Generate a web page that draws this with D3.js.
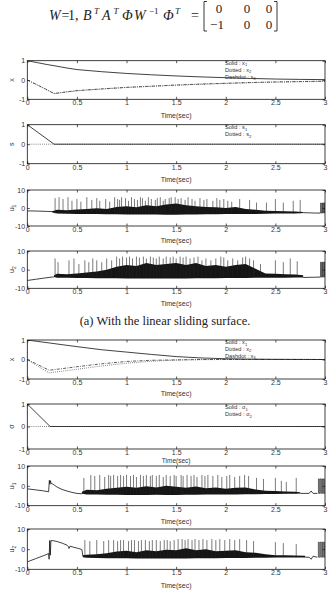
<!DOCTYPE html>
<html>
<head>
<meta charset="utf-8">
<script src="https://cdn.jsdelivr.net/npm/d3@7"></script>
<style>
body { margin: 0; background: #fff; }
svg { display: block; }
</style>
</head>
<body>
<svg id="fig" width="329" height="598"></svg>
<script>
// ---- data ----
var timeTicks = [0, 0.5, 1, 1.5, 2, 2.5, 3];
var stateTicks = [-1, 0, 1];
var inputTicks = [-10, 0, 10];
var matrixRows = [["0", "0", "0"], ["\u22121", "0", "0"]];

// (a) linear sliding surface
var tA = [0, 0.1, 0.2, 0.27, 0.4, 0.5, 0.75, 1, 1.25, 1.5, 1.75, 2, 2.25, 2.5, 2.75, 3];
var x1A = [1, 0.9, 0.8, 0.74, 0.62, 0.54, 0.43, 0.34, 0.27, 0.21, 0.16, 0.12, 0.08, 0.05, 0.03, 0.02];
var x2A = [0, -0.26, -0.52, -0.71, -0.62, -0.56, -0.47, -0.39, -0.33, -0.27, -0.22, -0.18, -0.14, -0.11, -0.09, -0.07];
var x3A = [0, -0.25, -0.51, -0.7, -0.61, -0.55, -0.46, -0.38, -0.32, -0.26, -0.21, -0.17, -0.13, -0.1, -0.08, -0.06];
var tSA = [0, 0.27, 3];
var s1A = [1, 0, 0];
var s2A = [0, 0, 0];

var u1aSmooth = [[[0, -1.6], [0.1, -1.7], [0.2, -1.9], [0.25, -2.0], [0.27, -2.3]],
                 [[2.78, -2.6], [2.85, -2.7], [2.9, -2.8], [2.95, -2.8]]];
var u1aBandT = [0.25, 0.3, 0.4, 0.5, 0.6, 0.7, 0.8, 0.9, 1.0, 1.1, 1.2, 1.3, 1.4, 1.5, 1.6, 1.7, 1.8, 1.9, 2.0, 2.1, 2.2, 2.3, 2.4, 2.5, 2.6, 2.7, 2.78];
var u1aBandLo = [-2.4, -3.0, -3.2, -3.3, -3.4, -3.4, -3.5, -3.5, -3.6, -3.6, -3.6, -3.6, -3.7, -3.7, -3.6, -3.6, -3.5, -3.5, -3.4, -3.4, -3.3, -3.3, -3.2, -3.1, -3.1, -3.0, -2.8];
var u1aBandHi = [-1.8, -1.0, -1.2, -0.8, -0.5, -0.2, -0.6, 0.5, 1.0, 0.4, 1.5, 1.0, 2.0, 2.5, 1.5, 1.0, 0.5, 0.4, 0.0, 0.5, -0.5, -1.0, -1.5, -1.6, -1.8, -2.0, -2.2];
var u1aSpikeBase = -3;
var u1aSpikes = [[0.28, 5.5], [0.32, 6], [0.36, 5], [0.41, 6], [0.45, 4], [0.5, 5], [0.54, 3.5], [0.6, 6], [0.65, 4.5], [0.7, 5.5],
  [0.73, 4], [0.79, 5], [0.83, 3.5], [0.88, 6], [0.91, 5], [0.93, 4.5], [0.95, 6], [0.99, 5.5], [1.02, 4], [1.05, 6],
  [1.08, 5], [1.11, 4.5], [1.14, 6], [1.16, 5.5], [1.19, 4], [1.22, 6], [1.25, 5], [1.29, 4.5], [1.31, 5.5], [1.34, 6],
  [1.37, 4], [1.39, 5], [1.43, 5.5], [1.45, 6], [1.49, 6], [1.52, 5], [1.55, 5.5], [1.59, 4.5], [1.62, 6], [1.66, 5],
  [1.69, 4], [1.74, 5.5], [1.78, 4.5], [1.81, 5], [1.87, 4], [1.91, 5.5], [1.94, 4.5], [1.98, 5], [2.02, 4], [2.06, 3.5],
  [2.14, 5], [2.24, 4.5], [2.31, 3], [2.41, 3], [2.5, 5], [2.58, 3], [2.68, 4], [2.75, 4.5]];
var u1aTail = [2.948, 2.956, 2.961, 2.969, 2.975, 2.982, 2.988, 2.994, 3.0];
var u1aTailLo = -2.8, u1aTailHi = 2.8;

var u2aSmooth = [[[0, -5.8], [0.08, -5.2], [0.16, -4.6], [0.24, -4.0], [0.27, -3.9]],
                 [[2.78, -4.2], [2.85, -4.1], [2.95, -4.0]]];
var u2aBandT = [0.27, 0.3, 0.4, 0.5, 0.6, 0.7, 0.8, 0.9, 1.0, 1.1, 1.2, 1.3, 1.4, 1.5, 1.6, 1.7, 1.8, 1.9, 2.0, 2.1, 2.2, 2.3, 2.4, 2.5, 2.6, 2.7, 2.78];
var u2aBandLo = [-4.0, -4.3, -4.4, -4.5, -4.5, -4.6, -4.6, -4.6, -4.7, -4.7, -4.7, -4.7, -4.7, -4.7, -4.7, -4.6, -4.6, -4.6, -4.5, -4.5, -4.5, -4.4, -4.4, -4.3, -4.3, -4.2, -4.2];
var u2aBandHi = [-3.0, -2.2, -2.5, -2.0, -1.5, -1.0, 0.0, 1.5, 2.5, 2.0, 3.5, 2.5, 3.0, 3.5, 2.5, 3.5, 2.0, 2.5, 1.5, 2.5, 3.0, 0.5, -2.0, -2.2, -2.5, -2.6, -3.0];
var u2aSpikeBase = -4;
var u2aSpikes = [[0.28, 6], [0.31, 4], [0.42, 5], [0.47, 6], [0.52, 3], [0.58, 5], [0.62, 4], [0.66, 6], [0.7, 5], [0.75, 4],
  [0.8, 6], [0.85, 5], [0.9, 7], [0.93, 6], [0.96, 7], [1.0, 6.5], [1.03, 7], [1.06, 6], [1.1, 7], [1.13, 6.5],
  [1.17, 7], [1.2, 6], [1.24, 7], [1.27, 6.5], [1.3, 6], [1.33, 7], [1.37, 6], [1.4, 7], [1.44, 6.5], [1.47, 7],
  [1.5, 6], [1.54, 7], [1.57, 6.5], [1.6, 7], [1.64, 6], [1.68, 6.5], [1.72, 7], [1.76, 5], [1.8, 6], [1.85, 5],
  [1.9, 6], [1.95, 7], [1.98, 6.5], [2.02, 5], [2.07, 6], [2.12, 5], [2.17, 6.5], [2.2, 7], [2.24, 6], [2.28, 5],
  [2.35, 3], [2.5, 5], [2.58, 4], [2.65, 6], [2.72, 4.5]];
var u2aTail = [2.948, 2.955, 2.962, 2.968, 2.975, 2.981, 2.988, 2.994, 3.0];
var u2aTailLo = -4, u2aTailHi = 4;

// (b) nonlinear sliding surface
var tB = [0, 0.1, 0.22, 0.35, 0.5, 0.75, 1, 1.25, 1.5, 1.75, 2, 2.25, 2.5, 3];
var x1B = [1, 0.93, 0.85, 0.76, 0.66, 0.5, 0.38, 0.26, 0.15, 0.08, 0.04, 0.02, 0.01, 0];
var x2B = [0, -0.33, -0.68, -0.6, -0.5, -0.33, -0.19, -0.09, -0.03, -0.01, 0, 0, 0, 0];
var x3B = [0, -0.25, -0.55, -0.47, -0.37, -0.22, -0.1, -0.04, -0.02, 0, 0, 0, 0, 0];
var tSB = [0, 0.23, 3];
var sig1B = [1, 0, 0];
var sig2B = [0, 0, 0];

var u1bSmooth = [[[0, -1.5], [0.08, -2.0], [0.16, -2.5], [0.215, -3.0], [0.222, 2.8], [0.228, 0.8], [0.234, 2.6], [0.24, 1.2],
                  [0.26, 0.8], [0.3, -0.6], [0.35, -1.8], [0.4, -2.6], [0.45, -3.3], [0.5, -3.8], [0.55, -4.0]],
                 [[2.75, -3.8], [2.84, -3.8], [2.86, -2.6], [2.88, -3.8], [2.92, -3.8]]];
var u1bBandT = [0.55, 0.6, 0.7, 0.8, 0.9, 1.0, 1.1, 1.2, 1.3, 1.4, 1.5, 1.6, 1.7, 1.8, 1.9, 2.0, 2.1, 2.2, 2.3, 2.4, 2.5, 2.6, 2.7, 2.75];
var u1bBandLo = [-4.0, -4.3, -4.4, -4.5, -4.5, -4.6, -4.6, -4.6, -4.5, -4.6, -4.6, -4.5, -4.5, -4.4, -4.4, -4.3, -4.3, -4.2, -4.2, -4.1, -4.1, -4.0, -4.0, -3.9];
var u1bBandHi = [-3.0, -2.0, -2.2, -1.5, -1.0, -0.5, -1.0, -0.2, -0.8, 0.0, -0.5, -1.0, -0.3, -1.2, -0.8, -1.5, -1.0, -0.8, -1.8, -2.5, -2.6, -2.8, -3.0, -3.2];
var u1bSpikeBase = -4;
var u1bSpikes = [[0.57, 4], [0.64, 5.5], [0.68, 5], [0.73, 5.5], [0.78, 4.5], [0.82, 5.5], [0.84, 5], [0.87, 5.5], [0.91, 5], [0.94, 5.5],
  [0.97, 5], [1.0, 5.5], [1.04, 5], [1.07, 5.5], [1.1, 4.5], [1.14, 5.5], [1.17, 5], [1.2, 5.5], [1.24, 5], [1.26, 5.5],
  [1.3, 5], [1.33, 5.5], [1.37, 4.5], [1.4, 5.5], [1.44, 5], [1.48, 5.5], [1.5, 5], [1.55, 5.5], [1.57, 5], [1.61, 5.5],
  [1.65, 5], [1.68, 5.5], [1.71, 4.5], [1.76, 5.5], [1.79, 5], [1.82, 5.5], [1.87, 5], [1.92, 5.5], [1.96, 4.5], [2.01, 5],
  [2.04, 5.5], [2.09, 4.5], [2.14, 5], [2.19, 5.5], [2.23, 5], [2.31, 4], [2.38, 3.5], [2.5, 4], [2.56, 2.5], [2.61, 2], [2.71, 4]];
var u1bTail = [2.925, 2.934, 2.942, 2.95, 2.958, 2.966, 2.975, 2.983, 2.991, 3.0];
var u1bTailLo = -3.8, u1bTailHi = 3.5;

var u2bSmooth = [[[0, -6.3], [0.08, -4.8], [0.16, -3.3], [0.215, -2.2], [0.22, -5.0], [0.226, 4.3], [0.232, -3.0], [0.238, 4.2],
                  [0.26, 4.2], [0.3, 3.8], [0.35, 3.0], [0.4, 2.0], [0.415, 1.2], [0.42, 0.3], [0.43, 1.5], [0.47, 0.9],
                  [0.52, 0.3], [0.55, -0.2], [0.56, -3.6]],
                 [[2.8, -4.0], [2.84, -4.0], [2.86, -5.0], [2.88, -3.5], [2.92, -4.0]]];
var u2bBandT = [0.56, 0.6, 0.7, 0.8, 0.9, 1.0, 1.1, 1.2, 1.3, 1.4, 1.5, 1.6, 1.7, 1.8, 1.9, 2.0, 2.1, 2.2, 2.3, 2.4, 2.5, 2.6, 2.7, 2.8];
var u2bBandLo = [-4.0, -4.3, -4.4, -4.5, -4.5, -4.5, -4.6, -4.6, -4.6, -4.6, -4.6, -4.6, -4.5, -4.5, -4.5, -4.4, -4.4, -4.4, -4.3, -4.3, -4.2, -4.2, -4.1, -4.1];
var u2bBandHi = [-3.0, -2.8, -2.5, -2.0, -1.2, -0.8, -1.5, -0.5, -1.0, -0.3, -0.5, 0.5, -0.5, 0.0, -1.0, -0.8, -0.5, -1.5, -1.8, -2.5, -3.0, -3.0, -3.2, -3.3];
var u2bSpikeBase = -4;
var u2bSpikes = [[0.58, 4.5], [0.63, 4], [0.7, 4.5], [0.77, 4], [0.82, 4.5], [0.87, 4.5], [0.91, 4], [0.94, 4.5], [0.97, 4.5], [1.02, 4],
  [1.05, 4.5], [1.08, 4.5], [1.12, 4], [1.15, 4.5], [1.19, 4.5], [1.23, 4], [1.26, 4.5], [1.3, 4.5], [1.34, 4], [1.38, 4.5],
  [1.41, 4.5], [1.44, 4], [1.48, 4.5], [1.52, 5], [1.56, 5], [1.59, 4.5], [1.62, 5], [1.66, 4.5], [1.69, 5], [1.73, 4.5],
  [1.77, 5], [1.81, 4.5], [1.86, 5], [1.9, 4.5], [1.94, 5], [1.99, 4.5], [2.04, 5], [2.09, 4.5], [2.14, 5], [2.21, 4.5],
  [2.28, 4], [2.5, 3.5], [2.58, 3], [2.71, 2.5]];
var u2bTail = [2.925, 2.933, 2.941, 2.95, 2.958, 2.967, 2.975, 2.983, 2.992, 3.0];
var u2bTailLo = -4, u2bTailHi = 3.5;

// ---- layout ----
var svg = d3.select('#fig');
var left = 27.3, right = 325;
var x = d3.scaleLinear().domain([0, 3]).range([left, right]);
var tickFont = '"Liberation Sans", Arial, sans-serif';
var serif = '"Liberation Serif", "Times New Roman", serif';

function zip(t, v) {
    return t.map(function (d, i) { return [d, v[i]]; });
}

function panel(p) {
    var y = d3.scaleLinear().domain([p.ticks[0], p.ticks[2]]).range([p.bottom, p.top]);
    var g = svg.append('g');
    var clipId = 'clip' + p.id;
    g.append('clipPath').attr('id', clipId)
        .append('rect').attr('x', left).attr('y', p.top)
        .attr('width', right - left).attr('height', p.bottom - p.top);
    var plot = g.append('g').attr('clip-path', 'url(#' + clipId + ')');
    var line = d3.line().x(function (d) { return x(d[0]); }).y(function (d) { return y(d[1]); });

    if (p.lines) {
        p.lines.forEach(function (l) {
            plot.append('path').attr('d', line(l.pts))
                .attr('fill', 'none').attr('stroke', l.color || '#111')
                .attr('stroke-width', l.w || 0.8)
                .attr('stroke-dasharray', l.dash || null);
        });
    }
    if (p.u) {
        var u = p.u;
        var area = d3.area()
            .x(function (d) { return x(d[0]); })
            .y0(function (d) { return y(d[1]); })
            .y1(function (d) { return y(d[2]); });
        plot.append('path')
            .attr('d', area(u.bandT.map(function (t, i) { return [t, u.bandLo[i], u.bandHi[i]]; })))
            .attr('fill', '#151515');
        plot.selectAll('line.spike').data(u.spikes).enter().append('line')
            .attr('class', 'spike')
            .attr('x1', function (d) { return x(d[0]); })
            .attr('x2', function (d) { return x(d[0]); })
            .attr('y1', y(u.base))
            .attr('y2', function (d) { return y(d[1]); })
            .attr('stroke', '#222').attr('stroke-width', 0.6);
        u.smooth.forEach(function (s) {
            plot.append('path').attr('d', line(s))
                .attr('fill', 'none').attr('stroke', '#111').attr('stroke-width', 0.8);
        });
        var sq = u.tail.map(function (t, i) { return [t, i % 2 ? u.tailHi : u.tailLo]; });
        plot.append('path').attr('d', line.curve(d3.curveStepAfter)(sq))
            .attr('fill', 'none').attr('stroke', '#111').attr('stroke-width', 0.6);
    }

    g.append('rect').attr('x', left).attr('y', p.top)
        .attr('width', right - left).attr('height', p.bottom - p.top)
        .attr('fill', 'none').attr('stroke', '#111').attr('stroke-width', 0.8);

    var fmt = function (d) { return String(d); };
    var ax = [
        g.append('g').attr('transform', 'translate(0,' + p.bottom + ')')
            .call(d3.axisBottom(x).tickValues(timeTicks).tickSizeInner(-2.5).tickSizeOuter(0).tickPadding(1.2).tickFormat(fmt)),
        g.append('g').attr('transform', 'translate(0,' + p.top + ')')
            .call(d3.axisTop(x).tickValues(timeTicks).tickSizeInner(-2.5).tickSizeOuter(0).tickFormat('')),
        g.append('g').attr('transform', 'translate(' + left + ',0)')
            .call(d3.axisLeft(y).tickValues(p.ticks).tickSizeInner(-2.5).tickSizeOuter(0).tickPadding(2.2).tickFormat(fmt)),
        g.append('g').attr('transform', 'translate(' + right + ',0)')
            .call(d3.axisRight(y).tickValues(p.ticks).tickSizeInner(-2.5).tickSizeOuter(0).tickFormat(''))
    ];
    ax.forEach(function (a) {
        a.select('.domain').remove();
        a.selectAll('line').attr('stroke', '#111').attr('stroke-width', 0.7);
        a.selectAll('text').attr('font-family', tickFont).attr('font-size', 7).attr('fill', '#333');
    });

    g.append('text').attr('x', (left + right) / 2).attr('y', p.timeY)
        .attr('text-anchor', 'middle').attr('font-family', tickFont)
        .attr('font-size', p.timeSize || 7).attr('fill', '#333').text('Time(sec)');

    var yl = g.append('text')
        .attr('transform', 'translate(13.5,' + ((p.top + p.bottom) / 2) + ') rotate(-90)')
        .attr('text-anchor', 'middle').attr('font-family', tickFont)
        .attr('font-size', 7).attr('fill', '#333');
    yl.append('tspan').text(p.ylabel);
    if (p.ysub) yl.append('tspan').attr('font-size', 5).attr('dy', 2).text(p.ysub);

    if (p.legend) {
        p.legend.forEach(function (l, i) {
            var t = g.append('text').attr('x', 225).attr('y', p.legendY + i * p.legendStep)
                .attr('font-family', tickFont).attr('font-size', 5.6).attr('fill', '#333');
            t.append('tspan').text(l[0]);
            t.append('tspan').attr('font-size', 4.2).attr('dy', 1.2).text(l[1]);
        });
    }
}

var dot = '0.8,1.3';
var dashdot = '3,1.3,0.8,1.3';

panel({ id: 1, top: 60.7, bottom: 99.3, timeY: 117.5, ticks: stateTicks, ylabel: 'x',
    legend: [['Solid : x', '1'], ['Dotted : x', '2'], ['Dashdot : x', '3']], legendY: 64.5, legendStep: 7,
    lines: [{ pts: zip(tA, x2A), dash: dot, color: '#444' }, { pts: zip(tA, x3A), dash: dashdot, color: '#333' },
            { pts: zip(tA, x1A) }] });
panel({ id: 2, top: 124.7, bottom: 163.7, timeY: 181.8, ticks: stateTicks, ylabel: 's',
    legend: [['Solid : s', '1'], ['Dotted : s', '2']], legendY: 129.3, legendStep: 7,
    lines: [{ pts: zip(tSA, s2A), dash: dot, color: '#444' }, { pts: zip(tSA, s1A) }] });
panel({ id: 3, top: 190, bottom: 226, timeY: 242.5, ticks: inputTicks, ylabel: 'u', ysub: '1',
    u: { smooth: u1aSmooth, bandT: u1aBandT, bandLo: u1aBandLo, bandHi: u1aBandHi, base: u1aSpikeBase,
         spikes: u1aSpikes, tail: u1aTail, tailLo: u1aTailLo, tailHi: u1aTailHi } });
panel({ id: 4, top: 251, bottom: 288.3, timeY: 305.8, ticks: inputTicks, ylabel: 'u', ysub: '2',
    u: { smooth: u2aSmooth, bandT: u2aBandT, bandLo: u2aBandLo, bandHi: u2aBandHi, base: u2aSpikeBase,
         spikes: u2aSpikes, tail: u2aTail, tailLo: u2aTailLo, tailHi: u2aTailHi } });

svg.append('text').attr('x', 165).attr('y', 324.5).attr('text-anchor', 'middle')
    .attr('font-family', serif).attr('font-size', 12.5).attr('fill', '#222')
    .text('(a) With the linear sliding surface.');

panel({ id: 5, top: 340, bottom: 379, timeY: 395.8, ticks: stateTicks, ylabel: 'x',
    legend: [['Solid : x', '1'], ['Dotted : x', '2'], ['Dashdot : x', '3']], legendY: 344.3, legendStep: 6.8,
    lines: [{ pts: zip(tB, x2B), dash: dot, color: '#444' }, { pts: zip(tB, x3B), dash: dashdot, color: '#333' },
            { pts: zip(tB, x1B) }] });
panel({ id: 6, top: 404, bottom: 449, timeY: 463.2, timeSize: 6.5, ticks: stateTicks, ylabel: '\u03c3',
    legend: [['Solid : \u03c3', '1'], ['Dotted : \u03c3', '2']], legendY: 409.3, legendStep: 7,
    lines: [{ pts: zip(tSB, sig2B), dash: dot, color: '#444' }, { pts: zip(tSB, sig1B) }] });
panel({ id: 7, top: 466, bottom: 505.7, timeY: 523.5, ticks: inputTicks, ylabel: 'u', ysub: '1',
    u: { smooth: u1bSmooth, bandT: u1bBandT, bandLo: u1bBandLo, bandHi: u1bBandHi, base: u1bSpikeBase,
         spikes: u1bSpikes, tail: u1bTail, tailLo: u1bTailLo, tailHi: u1bTailHi } });
panel({ id: 8, top: 529, bottom: 569.3, timeY: 588.2, ticks: inputTicks, ylabel: 'u', ysub: '2',
    u: { smooth: u2bSmooth, bandT: u2bBandT, bandLo: u2bBandLo, bandHi: u2bBandHi, base: u2bSpikeBase,
         spikes: u2bSpikes, tail: u2bTail, tailLo: u2bTailLo, tailHi: u2bTailHi } });

// ---- equation at the top ----
// each piece: text, x position, italic?, superscript?
var eqParts = [['W', 49, 1, 0], ['=', 61.5, 0, 0], ['1,', 68, 0, 0],
               ['B', 83, 1, 0], ['T', 94, 1, 1], ['A', 102, 1, 0], ['T', 113.5, 1, 1],
               ['\u03a6', 122, 1, 0], ['W', 134, 1, 0], ['\u22121', 149, 0, 1],
               ['\u03a6', 163, 1, 0], ['T', 175, 1, 1], ['=', 191, 0, 0]];
var eq = svg.append('g').attr('font-family', serif).attr('fill', '#222');
eqParts.forEach(function (p) {
    eq.append('text').attr('x', p[1]).attr('y', p[3] ? 14 : 20)
        .attr('font-size', p[3] ? 9 : 14)
        .attr('font-style', p[2] ? 'italic' : 'normal')
        .text(p[0]);
});

svg.append('path').attr('d', 'M207,1.5 H204 V31 H207').attr('fill', 'none').attr('stroke', '#222').attr('stroke-width', 0.9);
svg.append('path').attr('d', 'M274,1.5 H277 V31 H274').attr('fill', 'none').attr('stroke', '#222').attr('stroke-width', 0.9);
var colX = [219, 247, 269];
matrixRows.forEach(function (row, r) {
    row.forEach(function (v, c) {
        svg.append('text').attr('x', colX[c] + (v.length > 1 ? -2 : 0)).attr('y', 12.5 + r * 16)
            .attr('text-anchor', 'middle').attr('font-family', serif).attr('font-size', 13)
            .attr('fill', '#222').text(v);
    });
});
</script>
</body>
</html>
